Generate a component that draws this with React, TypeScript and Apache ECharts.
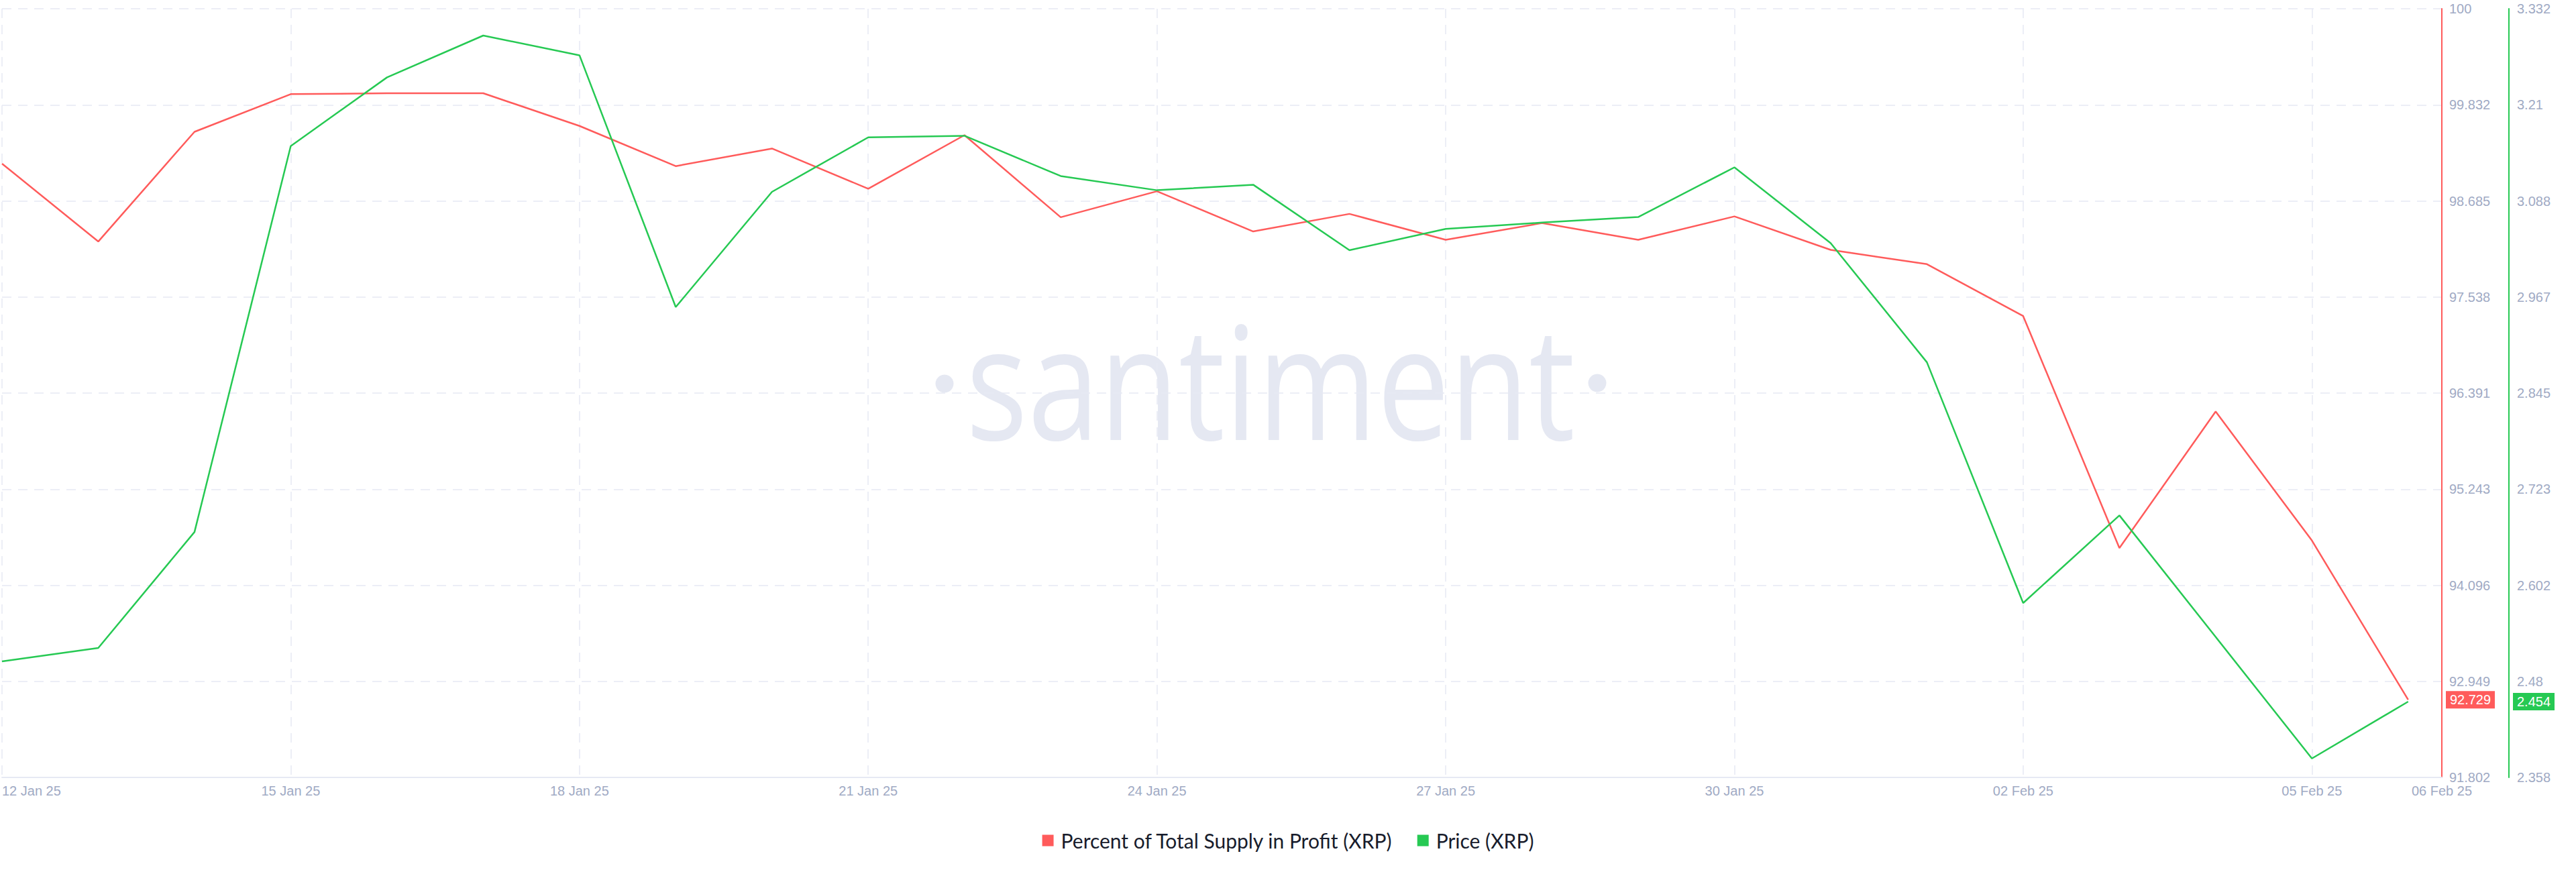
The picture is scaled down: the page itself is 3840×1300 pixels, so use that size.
import React, { useEffect, useRef } from 'react';
import * as echarts from 'echarts';

const dates = [
  '12 Jan 25', '13 Jan 25', '14 Jan 25', '15 Jan 25', '16 Jan 25', '17 Jan 25', '18 Jan 25',
  '19 Jan 25', '20 Jan 25', '21 Jan 25', '22 Jan 25', '23 Jan 25', '24 Jan 25', '25 Jan 25',
  '26 Jan 25', '27 Jan 25', '28 Jan 25', '29 Jan 25', '30 Jan 25', '31 Jan 25', '01 Feb 25',
  '02 Feb 25', '03 Feb 25', '04 Feb 25', '05 Feb 25', '06 Feb 25',
];

const supplyInProfit = [
  99.13, 98.2, 99.51, 99.96, 99.97, 99.97, 99.58, 99.1, 99.31, 98.83, 99.47, 98.49, 98.8,
  98.32, 98.53, 98.22, 98.42, 98.22, 98.5, 98.1, 97.93, 97.31, 94.54, 96.17, 94.63, 92.729,
];

const price = [
  2.505, 2.522, 2.669, 3.158, 3.245, 3.298, 3.273, 2.954, 3.1, 3.169, 3.171, 3.12, 3.102,
  3.109, 3.026, 3.053, 3.061, 3.068, 3.131, 3.035, 2.884, 2.579, 2.69, 2.536, 2.382, 2.454,
];

const profitTickLabels = ['91.802', '92.949', '94.096', '95.243', '96.391', '97.538', '98.685', '99.832', '100'];
const priceTickLabels = ['2.358', '2.48', '2.602', '2.723', '2.845', '2.967', '3.088', '3.21', '3.332'];

const PROFIT_MIN = 91.8017;
const PROFIT_STEP = 1.14722;
const PROFIT_MAX = 100.97946;
const PRICE_MIN = 2.358;
const PRICE_STEP = 0.12175;
const PRICE_MAX = 3.332;
const X_MAX = 25.35;

const RED = '#FF5B5B';
const GREEN = '#26C953';
const AXIS_TEXT = '#9FAAC4';
const GRID_LINE = '#E6E9F3';

export default function App() {
  const ref = useRef<HTMLDivElement>(null);

  useEffect(() => {
    if (!ref.current) return;
    const chart = echarts.init(ref.current, undefined, { renderer: 'svg' });

    const option: any = {
      animation: false,
      backgroundColor: '#ffffff',
      grid: { left: 0, right: 200, top: 13, bottom: 141, containLabel: false },
      legend: {
        show: true,
        left: 'center',
        top: 1233,
        icon: 'rect',
        itemWidth: 17,
        itemHeight: 17,
        itemGap: 36,
        textStyle: { fontSize: 30, color: '#181C2C', fontFamily: 'Lato', padding: [0, 0, 0, 6] },
        data: ['Percent of Total Supply in Profit (XRP)', 'Price (XRP)'],
      },
      xAxis: {
        type: 'value',
        min: 0,
        max: X_MAX,
        interval: 3,
        axisLine: { show: true, onZero: false, lineStyle: { color: GRID_LINE, width: 2 } },
        axisTick: { show: false },
        splitLine: { show: true, lineStyle: { color: GRID_LINE, type: [14, 10], width: 1.5 } },
        axisLabel: {
          color: AXIS_TEXT,
          fontSize: 20,
          fontFamily: 'Liberation Sans',
          margin: 10,
          alignMinLabel: 'left',
          formatter: (v: number) => (v > dates.length - 1.5 ? dates[dates.length - 1] : dates[Math.round(v)]),
        },
      },
      yAxis: [
        {
          type: 'value',
          position: 'right',
          min: PROFIT_MIN,
          max: PROFIT_MAX,
          interval: PROFIT_STEP,
          axisLine: { show: true, onZero: false, lineStyle: { color: RED, width: 2 } },
          axisTick: { show: false },
          splitLine: { show: true, lineStyle: { color: GRID_LINE, type: [14, 10], width: 1.5 } },
          axisLabel: {
            color: AXIS_TEXT,
            fontSize: 20,
            fontFamily: 'Liberation Sans',
            margin: 11,
            formatter: (_v: number, i: number) => profitTickLabels[i] ?? '',
          },
        },
        {
          type: 'value',
          position: 'right',
          offset: 100,
          min: PRICE_MIN,
          max: PRICE_MAX,
          interval: PRICE_STEP,
          axisLine: { show: true, onZero: false, lineStyle: { color: GREEN, width: 2 } },
          axisTick: { show: false },
          splitLine: { show: false },
          axisLabel: {
            color: AXIS_TEXT,
            fontSize: 20,
            fontFamily: 'Liberation Sans',
            margin: 12,
            formatter: (_v: number, i: number) => priceTickLabels[i] ?? '',
          },
        },
      ],
      series: [
        {
          name: 'Percent of Total Supply in Profit (XRP)',
          type: 'line',
          yAxisIndex: 0,
          showSymbol: false,
          symbol: 'none',
          itemStyle: { color: RED },
          lineStyle: { color: RED, width: 2.5 },
          data: supplyInProfit.map((v, i) => [i, v]),
          z: 3,
        },
        {
          name: 'Price (XRP)',
          type: 'line',
          yAxisIndex: 1,
          showSymbol: false,
          symbol: 'none',
          itemStyle: { color: GREEN },
          lineStyle: { color: GREEN, width: 2.5 },
          data: price.map((v, i) => [i, v]),
          z: 4,
        },
      ],
    };

    chart.setOption(option);

    const last = dates.length - 1;
    const yRed = chart.convertToPixel({ yAxisIndex: 0 }, supplyInProfit[last]) as number;
    const yGreen = chart.convertToPixel({ yAxisIndex: 1 }, price[last]) as number;
    const xAxisEnd = chart.convertToPixel({ xAxisIndex: 0 }, X_MAX) as number;
    const redText = supplyInProfit[last].toFixed(3);
    const greenText = price[last].toFixed(3);

    chart.setOption({
      graphic: [
        {
          type: 'text',
          id: 'wm-text',
          z: -10,
          silent: true,
          x: 1894,
          y: 565,
          scaleX: 0.82,
          style: {
            text: 'santiment',
            font: '235px "Open Sans"',
            fill: '#E5E8F2',
            textAlign: 'center',
            textVerticalAlign: 'middle',
          },
        },
        { type: 'circle', id: 'wm-dot1', z: -10, silent: true, shape: { cx: 1408, cy: 572, r: 13.5 }, style: { fill: '#E5E8F2' } },
        { type: 'circle', id: 'wm-dot2', z: -10, silent: true, shape: { cx: 2381, cy: 571, r: 13.5 }, style: { fill: '#E5E8F2' } },
        {
          type: 'group',
          id: 'badge-red',
          z: 20,
          children: [
            { type: 'rect', shape: { x: xAxisEnd + 6, y: yRed - 13, width: 73, height: 26 }, style: { fill: RED } },
            {
              type: 'text',
              x: xAxisEnd + 6 + 36.5,
              y: yRed,
              style: { text: redText, font: '20px "Liberation Sans"', fill: '#ffffff', textAlign: 'center', textVerticalAlign: 'middle' },
            },
          ],
        },
        {
          type: 'group',
          id: 'badge-green',
          z: 20,
          children: [
            { type: 'rect', shape: { x: xAxisEnd + 106, y: yGreen - 13, width: 62, height: 26 }, style: { fill: GREEN } },
            {
              type: 'text',
              x: xAxisEnd + 106 + 31,
              y: yGreen,
              style: { text: greenText, font: '20px "Liberation Sans"', fill: '#ffffff', textAlign: 'center', textVerticalAlign: 'middle' },
            },
          ],
        },
      ],
    });

    return () => chart.dispose();
  }, []);

  return <div ref={ref} style={{ position: 'fixed', left: 0, top: 0, width: 3840, height: 1300 }} />;
}
